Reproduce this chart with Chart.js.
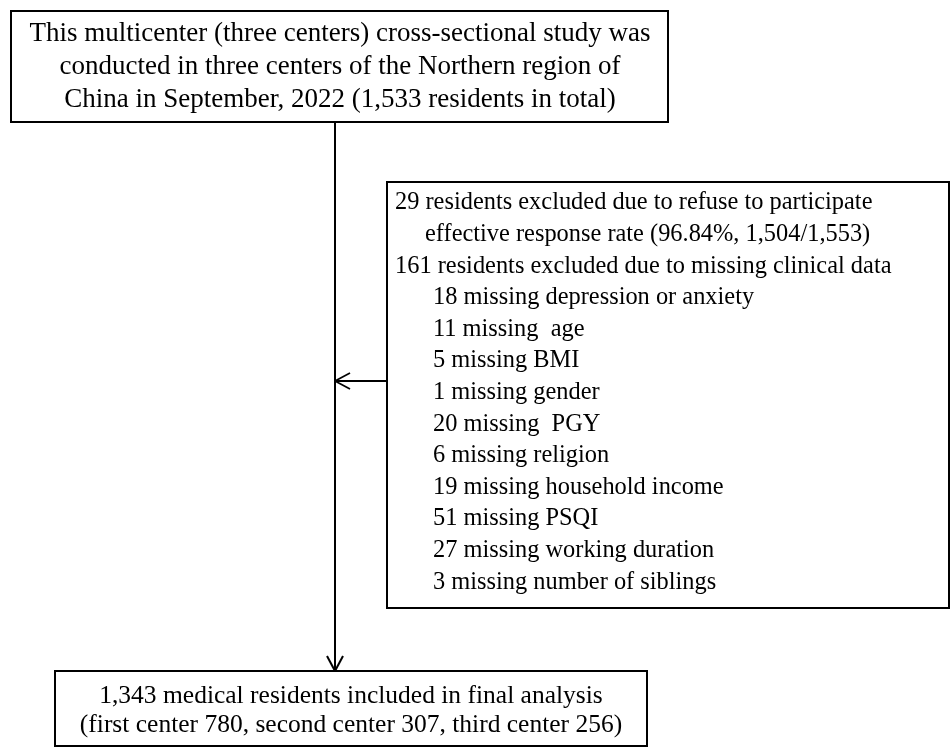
<!DOCTYPE html>
<html>
<head>
<meta charset="utf-8">
<script src="https://cdn.jsdelivr.net/npm/chart.js@4/dist/chart.umd.min.js"></script>
<style>
  html, body { margin: 0; padding: 0; background: #fff; }
  #wrap { width: 951px; height: 748px; }
</style>
</head>
<body>
<div id="wrap"><canvas id="flow"></canvas></div>
<script>
// Text of the flow diagram
const topLines = [
  "This multicenter (three centers) cross-sectional study was",
  "conducted in three centers of the Northern region of",
  "China in September, 2022 (1,533 residents in total)",
];
const excludedLines = [
  "29 residents excluded due to refuse to participate",
  "effective response rate (96.84%, 1,504/1,553)",
  "161 residents excluded due to missing clinical data",
  "18 missing depression or anxiety",
  "11 missing  age",
  "5 missing BMI",
  "1 missing gender",
  "20 missing  PGY",
  "6 missing religion",
  "19 missing household income",
  "51 missing PSQI",
  "27 missing working duration",
  "3 missing number of siblings",
];
// indent level of each excluded line
const excludedIndent = [0, 1, 0, 2, 2, 2, 2, 2, 2, 2, 2, 2, 2];
const finalLines = [
  "1,343 medical residents included in final analysis",
  "(first center 780, second center 307, third center 256)",
];

// Layout (in scale units, which match the picture's pixels)
const layout = {
  top: { x0: 11, y0: 11, x1: 668, y1: 122, cx: 340, firstY: 34, step: 33, size: 27 },
  side: { x0: 387, y0: 182, x1: 949, y1: 608, tx: 395, firstY: 203, step: 31.6, size: 24.4 },
  bottom: { x0: 55, y0: 671, x1: 647, y1: 746, cx: 351, firstY: 696, step: 29.5, size: 25.5 },
  stemX: 335,
  arrowY: 381,
  indentPx: [0, 30, 38],
};

const fontFor = (size) => size + 'px "Liberation Serif", "Times New Roman", serif';

const flowPlugin = {
  id: "flowDiagram",
  afterDraw(chart) {
    const ctx = chart.ctx;
    const xs = chart.scales.x;
    const ys = chart.scales.y;
    const px = (v) => xs.getPixelForValue(v);
    const py = (v) => ys.getPixelForValue(v);

    ctx.save();
    ctx.strokeStyle = "#000";
    ctx.fillStyle = "#000";
    ctx.lineWidth = 2;

    function box(b) {
      ctx.strokeRect(px(b.x0), py(b.y0), px(b.x1) - px(b.x0), py(b.y1) - py(b.y0));
    }
    function line(x0, y0, x1, y1) {
      ctx.beginPath();
      ctx.moveTo(px(x0), py(y0));
      ctx.lineTo(px(x1), py(y1));
      ctx.stroke();
    }

    box(layout.top);
    box(layout.side);
    box(layout.bottom);

    // vertical stem with arrow head
    line(layout.stemX, layout.top.y1, layout.stemX, layout.bottom.y0);
    line(layout.stemX, layout.bottom.y0, layout.stemX - 8, layout.bottom.y0 - 15);
    line(layout.stemX, layout.bottom.y0, layout.stemX + 8, layout.bottom.y0 - 15);

    // side arrow
    ctx.lineWidth = 1.8;
    line(layout.side.x0, layout.arrowY, layout.stemX, layout.arrowY);
    line(layout.stemX, layout.arrowY, layout.stemX + 15, layout.arrowY - 8);
    line(layout.stemX, layout.arrowY, layout.stemX + 15, layout.arrowY + 8);

    ctx.textBaseline = "middle";

    ctx.textAlign = "center";
    const tb = layout.top;
    ctx.font = fontFor(tb.size);
    topLines.forEach((t, i) => ctx.fillText(t, px(tb.cx), py(tb.firstY + i * tb.step)));

    const bb = layout.bottom;
    ctx.font = fontFor(bb.size);
    finalLines.forEach((t, i) => ctx.fillText(t, px(bb.cx), py(bb.firstY + i * bb.step)));

    ctx.textAlign = "left";
    const sb = layout.side;
    ctx.font = fontFor(sb.size);
    excludedLines.forEach((t, i) => {
      const x = sb.tx + layout.indentPx[excludedIndent[i]];
      ctx.fillText(t, px(x), py(sb.firstY + i * sb.step));
    });

    ctx.restore();
  },
};

new Chart(document.getElementById("flow"), {
  type: "scatter",
  data: { datasets: [{ data: [], pointRadius: 0 }] },
  options: {
    responsive: true,
    maintainAspectRatio: false,
    animation: false,
    layout: { padding: 0 },
    plugins: { legend: { display: false }, tooltip: { enabled: false } },
    scales: {
      x: { type: "linear", min: 0, max: 951, display: false },
      y: { type: "linear", min: 0, max: 748, reverse: true, display: false },
    },
  },
  plugins: [flowPlugin],
});
</script>
</body>
</html>
